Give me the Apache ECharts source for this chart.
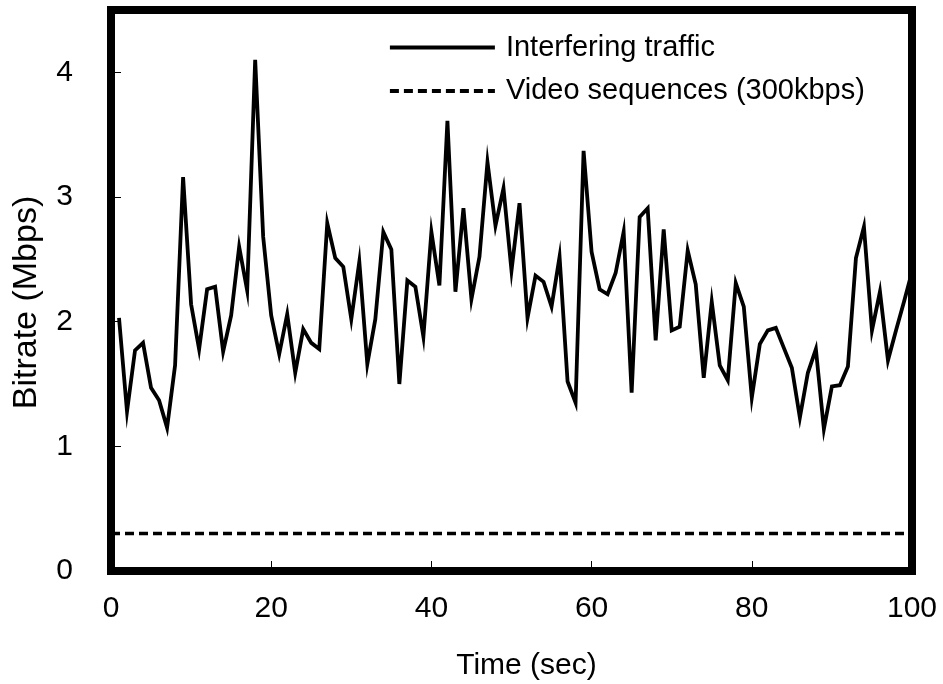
<!DOCTYPE html>
<html>
<head>
<meta charset="utf-8">
<script src="https://cdn.jsdelivr.net/npm/echarts@6/dist/echarts.min.js"></script>
<style>html,body{margin:0;padding:0;background:#fff}#c{width:943px;height:684px}</style>
</head>
<body>
<div id="c"></div>
<script>
const timeSec = Array.from({length: 100}, (_, i) => i + 1);
const interferingTraffic = [
  2.03, 1.28, 1.77, 1.83, 1.47, 1.37, 1.15, 1.65, 3.16, 2.14,
  1.78, 2.26, 2.28, 1.76, 2.05, 2.60, 2.25, 4.10, 2.68, 2.05,
  1.74, 2.06, 1.59, 1.94, 1.83, 1.78, 2.79, 2.51, 2.44, 2.02,
  2.48, 1.66, 2.02, 2.72, 2.58, 1.50, 2.33, 2.28, 1.88, 2.72,
  2.29, 3.61, 2.24, 2.91, 2.18, 2.52, 3.28, 2.77, 3.07, 2.41,
  2.95, 2.03, 2.37, 2.32, 2.12, 2.52, 1.52, 1.35, 3.37, 2.56,
  2.26, 2.22, 2.39, 2.72, 1.43, 2.84, 2.91, 1.85, 2.74, 1.93,
  1.96, 2.57, 2.30, 1.55, 2.16, 1.65, 1.53, 2.31, 2.12, 1.39,
  1.82, 1.93, 1.95, 1.79, 1.63, 1.23, 1.59, 1.78, 1.14, 1.48,
  1.49, 1.64, 2.51, 2.76, 1.93, 2.24, 1.69, 1.93, 2.16, 2.40
];
const videoRateX = [0, 100];
const videoRate = [0.3, 0.3];
const xTicks = [0, 20, 40, 60, 80, 100];
const yTicks = [0, 1, 2, 3, 4];

const font = '"Liberation Sans", Arial, sans-serif';
const chart = echarts.init(document.getElementById('c'));
chart.setOption({
  animation: false,
  backgroundColor: '#fff',
  textStyle: {fontFamily: font, color: '#000'},
  grid: {left: 111, right: 31, top: 10, bottom: 113, show: true, borderColor: '#000', borderWidth: 8,
    backgroundColor: 'transparent', outerBoundsMode: 'none', containLabel: false},
  legend: {
    left: 383, top: 28, orient: 'vertical', itemWidth: 105, itemHeight: 14, itemGap: 14.5,
    itemStyle: {opacity: 0},
    textStyle: {fontFamily: font, fontSize: 29, color: '#000', padding: [0, 0, 0, 6]},
    data: [
      {name: 'Interfering traffic', lineStyle: {width: 3.8, type: 'solid', color: '#000'}},
      {name: 'Video sequences (300kbps)', lineStyle: {width: 3.8, type: [9, 5], color: '#000'}}
    ]
  },
  xAxis: {
    type: 'value', min: 0, max: 100, interval: 20,
    name: 'Time (sec)', nameLocation: 'middle', nameGap: 80,
    nameTextStyle: {fontFamily: font, fontSize: 30, color: '#000', padding: [0, 0, 0, 30]},
    axisLine: {show: false},
    axisTick: {show: true, inside: true, length: 10, lineStyle: {color: '#000', width: 1}},
    axisLabel: {fontFamily: font, fontSize: 30, color: '#000', margin: 23,
      formatter: v => xTicks.includes(v) ? String(v) : ''},
    splitLine: {show: false}
  },
  yAxis: {
    type: 'value', min: 0, max: 4.5, interval: 1,
    name: 'Bitrate (Mbps)', nameLocation: 'middle', nameGap: 67, nameRotate: 90,
    nameTextStyle: {fontFamily: font, fontSize: 34, color: '#000', padding: [0, 24, 0, 0]},
    axisLine: {show: false},
    axisTick: {show: true, inside: true, length: 10, lineStyle: {color: '#000', width: 1}},
    axisLabel: {fontFamily: font, fontSize: 30, color: '#000', margin: 38, showMaxLabel: false,
      formatter: v => yTicks.includes(v) ? String(v) : ''},
    splitLine: {show: false}
  },
  series: [
    {
      name: 'Interfering traffic', type: 'line', symbol: 'none',
      data: timeSec.map((t, i) => [t, interferingTraffic[i]]),
      lineStyle: {color: '#000', width: 3.8, join: 'miter'},
      itemStyle: {color: '#000'}
    },
    {
      name: 'Video sequences (300kbps)', type: 'line', symbol: 'none',
      data: videoRateX.map((t, i) => [t, videoRate[i]]),
      lineStyle: {color: '#000', width: 3.5, type: [9, 5]},
      itemStyle: {color: '#000'}
    }
  ]
});
</script>
</body>
</html>
